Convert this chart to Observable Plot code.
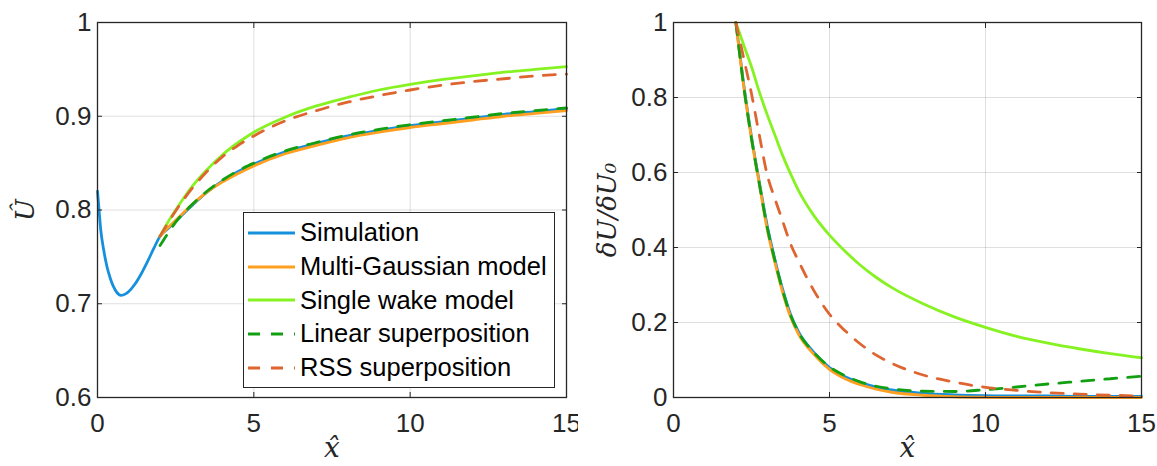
<!DOCTYPE html>
<html><head><meta charset="utf-8">
<script src="https://cdn.jsdelivr.net/npm/d3@7"></script>
<script src="https://cdn.jsdelivr.net/npm/@observablehq/plot@0.6"></script>
<style>
body{margin:0;background:#fff;}
#wrap{position:relative;width:1157px;height:466px;display:flex;overflow:hidden;}
#legend{position:absolute;left:243px;top:212px;width:310px;height:171px;border:1.2px solid #262626;background:#fff;padding-top:3px;box-sizing:content-box;font-family:"Liberation Sans",Arial,sans-serif;font-size:25.5px;color:#000;}
.row{height:33.7px;display:flex;align-items:center;}
.row svg{margin-left:4px;margin-right:5px;}
</style></head><body><div id="wrap"></div>
<script>
// ---------- data ----------
const seriesNames = ["Simulation", "Multi-Gaussian model", "Single wake model", "Linear superposition", "RSS superposition"];
const seriesColors = ["#1590dc", "#ff9f1f", "#86f222", "#12a012", "#de6530"];
const seriesDashed = [false, false, false, true, true];
const xTicks = [0, 5, 10, 15];
const leftYTicks = [0.6, 0.7, 0.8, 0.9, 1];
const rightYTicks = [0, 0.2, 0.4, 0.6, 0.8, 1];

// Left panel: normalized velocity U-hat
const leftSimX = [0, 0.05, 0.1, 0.2, 0.3, 0.4, 0.5, 0.6, 0.75, 0.9, 1.0, 1.2, 1.4, 1.6, 1.8, 2.0, 2.25, 2.5, 3, 3.5, 4, 4.5, 5, 6, 7, 8, 9, 10, 11, 12, 13, 14, 15];
const leftSimU = [0.820, 0.800, 0.780, 0.757, 0.740, 0.728, 0.719, 0.713, 0.709, 0.7105, 0.713, 0.721, 0.732, 0.745, 0.759, 0.772, 0.780, 0.788, 0.804, 0.819, 0.831, 0.841, 0.849, 0.862, 0.871, 0.879, 0.885, 0.890, 0.894, 0.898, 0.902, 0.905, 0.908];
const leftModelX = [2, 2.25, 2.5, 3, 3.5, 4, 4.5, 5, 6, 7, 8, 9, 10, 11, 12, 13, 14, 15];
const leftMultiU = [0.772, 0.781, 0.789, 0.805, 0.819, 0.830, 0.839, 0.847, 0.860, 0.869, 0.877, 0.883, 0.888, 0.892, 0.896, 0.900, 0.903, 0.906];
const leftSingleU = [0.772, 0.787, 0.800, 0.824, 0.843, 0.859, 0.872, 0.883, 0.899, 0.911, 0.920, 0.928, 0.934, 0.939, 0.943, 0.947, 0.950, 0.953];
const leftLinearU = [0.762, 0.775, 0.787, 0.805, 0.820, 0.832, 0.842, 0.850, 0.863, 0.872, 0.880, 0.886, 0.891, 0.895, 0.899, 0.903, 0.906, 0.909];
const leftRssU = [0.772, 0.786, 0.799, 0.822, 0.841, 0.857, 0.869, 0.879, 0.895, 0.906, 0.915, 0.922, 0.928, 0.933, 0.937, 0.940, 0.943, 0.945];

// Right panel: deficit ratio dU/dU0
const rightX = [2, 2.25, 2.5, 2.75, 3, 3.25, 3.5, 3.75, 4, 4.5, 5, 5.5, 6, 6.5, 7, 8, 9, 10, 11, 12, 13, 14, 15];
const rightSim = [1.0, 0.835, 0.695, 0.575, 0.46, 0.368, 0.288, 0.222, 0.176, 0.12, 0.08, 0.055, 0.04, 0.028, 0.02, 0.011, 0.007, 0.005, 0.004, 0.004, 0.003, 0.003, 0.003];
const rightMulti = [1.0, 0.83, 0.69, 0.57, 0.45, 0.36, 0.28, 0.215, 0.17, 0.115, 0.075, 0.05, 0.034, 0.022, 0.014, 0.006, 0.002, 0.0005, 0, 0, 0, 0, 0];
const rightSingle = [1.0, 0.94, 0.882, 0.815, 0.755, 0.70, 0.645, 0.597, 0.553, 0.485, 0.433, 0.39, 0.352, 0.32, 0.293, 0.25, 0.215, 0.187, 0.163, 0.145, 0.13, 0.117, 0.106];
const rightLinear = [1.0, 0.83, 0.69, 0.57, 0.455, 0.365, 0.285, 0.22, 0.175, 0.12, 0.082, 0.058, 0.041, 0.03, 0.023, 0.017, 0.016, 0.021, 0.028, 0.036, 0.043, 0.05, 0.057];
const rightRss = [1.0, 0.905, 0.81, 0.70, 0.595, 0.53, 0.47, 0.41, 0.365, 0.285, 0.222, 0.178, 0.142, 0.113, 0.091, 0.060, 0.041, 0.027, 0.019, 0.013, 0.009, 0.006, 0.004];

// ---------- build ----------
const toPts = (xs, vs) => xs.map((x, i) => ({x, v: vs[i]}));
const leftSeries = [toPts(leftSimX, leftSimU), toPts(leftModelX, leftMultiU), toPts(leftModelX, leftSingleU), toPts(leftModelX, leftLinearU), toPts(leftModelX, leftRssU)];
const rightSeries = [toPts(rightX, rightSim), toPts(rightX, rightMulti), toPts(rightX, rightSingle), toPts(rightX, rightLinear), toPts(rightX, rightRss)];

const axisColor = "#262626";
const fmt = d => String(+d.toFixed(2));
const labelFont = "'DejaVu Serif', 'Liberation Serif', serif";

function panel({width, ml, mr, yDomain, yTicks, series, ylabel, ylabelDx}) {
  return Plot.plot({
    width, height: 466, marginLeft: ml, marginRight: mr, marginTop: 22, marginBottom: 69,
    style: {fontFamily: "'Liberation Sans', Arial, sans-serif", fontSize: "26px", color: axisColor, background: "white", overflow: "visible"},
    x: {domain: [0, 15]},
    y: {domain: yDomain},
    marks: [
      Plot.gridX(xTicks, {stroke: axisColor, strokeOpacity: 0.15, strokeWidth: 1}),
      Plot.gridY(yTicks, {stroke: axisColor, strokeOpacity: 0.15, strokeWidth: 1}),
      ...series.map((pts, i) => Plot.line(pts, {
        x: "x", y: "v", stroke: seriesColors[i], strokeWidth: 2.8,
        strokeDasharray: seriesDashed[i] ? "12 11" : null, curve: "monotone-x"
      })),
      Plot.frame({stroke: axisColor, strokeWidth: 1.3}),
      Plot.axisX(xTicks, {anchor: "bottom", tickSize: 0, tickPadding: 16, tickFormat: fmt, label: null, fill: axisColor, fontSize: 26}),
      Plot.axisX(xTicks, {anchor: "bottom", tickSize: -5, tickFormat: () => "", label: null, stroke: axisColor}),
      Plot.axisX(xTicks, {anchor: "top", tickSize: -5, tickFormat: () => "", label: null, stroke: axisColor}),
      Plot.axisY(yTicks, {anchor: "left", tickSize: 0, tickPadding: 6, tickFormat: fmt, label: null, fill: axisColor, fontSize: 26}),
      Plot.axisY(yTicks, {anchor: "left", tickSize: -5, tickFormat: () => "", label: null, stroke: axisColor}),
      Plot.axisY(yTicks, {anchor: "right", tickSize: -5, tickFormat: () => "", label: null, stroke: axisColor}),
      Plot.text([ylabel], {text: d => d, frameAnchor: "left", textAnchor: "middle", lineAnchor: "middle", dx: ylabelDx, rotate: -90, fontFamily: labelFont, fontStyle: "italic", fontSize: 26, fill: axisColor}),
      Plot.text(["x\u0302"], {text: d => d, frameAnchor: "bottom", textAnchor: "middle", lineAnchor: "middle", dy: 51, fontFamily: labelFont, fontStyle: "italic", fontSize: 28, fill: axisColor})
    ]
  });
}

const wrap = document.getElementById("wrap");
wrap.appendChild(panel({width: 578, ml: 97, mr: 12, yDomain: [0.6, 1], yTicks: leftYTicks, series: leftSeries, ylabel: "\u00DB", ylabelDx: -72}));
wrap.appendChild(panel({width: 579, ml: 95, mr: 16, yDomain: [0, 1], yTicks: rightYTicks, series: rightSeries, ylabel: "\u03B4U/\u03B4U\u2080", ylabelDx: -66}));

// legend
const leg = d3.select(wrap).append("div").attr("id", "legend");
seriesNames.forEach((name, i) => {
  const row = leg.append("div").attr("class", "row");
  const s = row.append("svg").attr("width", 47).attr("height", 6);
  s.append("line").attr("x1", 0).attr("x2", 47).attr("y1", 3).attr("y2", 3)
    .attr("stroke", seriesColors[i]).attr("stroke-width", 2.8)
    .attr("stroke-dasharray", seriesDashed[i] ? "12 11" : null);
  row.append("span").text(name);
});
</script></body></html>
